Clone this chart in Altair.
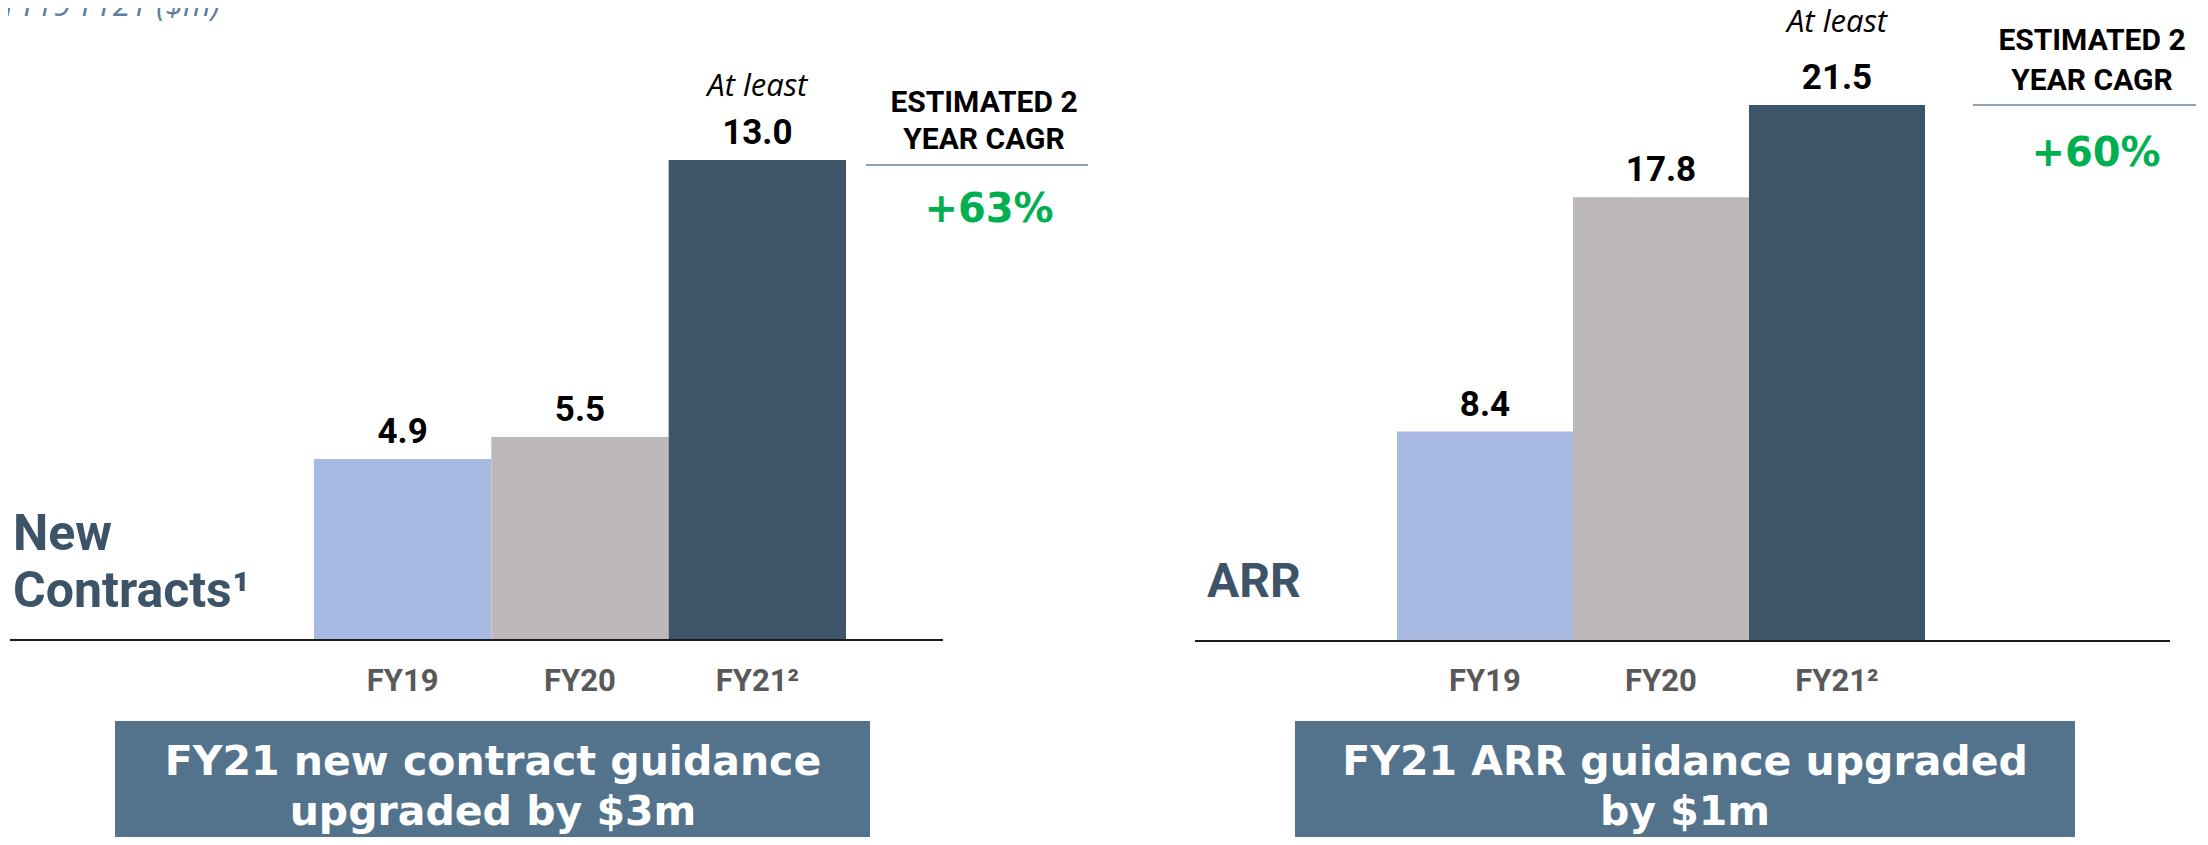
import altair as alt
import pandas as pd

# ---- data ----
categories = ["FY19", "FY20", "FY21"]
category_labels = ["FY19", "FY20", "FY21²"]
new_contracts = [4.9, 5.5, 13.0]
arr_values = [8.4, 17.8, 21.5]
bar_colors = ["#a7b9e0", "#bdb9b8", "#3e5468"]

cagr_new_contracts = "+63%"
cagr_arr = "+60%"

df_left = pd.DataFrame({"cat": categories, "label": category_labels, "value": new_contracts})
df_right = pd.DataFrame({"cat": categories, "label": category_labels, "value": arr_values})

color_enc = alt.Color("cat:N", scale=alt.Scale(domain=categories, range=bar_colors), legend=None)


def panel(df, x_range, y_max, y_range, rule_x, at_least_dy):
    xs = alt.X("cat:N", sort=categories,
               scale=alt.Scale(domain=categories, range=x_range, paddingInner=0, paddingOuter=0),
               axis=None)
    ys = alt.Y("value:Q", scale=alt.Scale(domain=[0, y_max], range=y_range, nice=False, zero=True),
               axis=None)
    base = alt.Chart(df)
    bars = base.mark_bar(strokeWidth=0).encode(x=xs, y=ys, color=color_enc)
    vals = base.mark_text(font="Roboto", fontWeight="bold", fontSize=35, color="#000000",
                          baseline="alphabetic", dy=-16).encode(
        x=xs, y=ys, text=alt.Text("value:Q", format=".1f"))
    cats = base.mark_text(font="Roboto", fontWeight="bold", fontSize=31, color="#595959",
                          baseline="alphabetic").encode(
        x=xs, y=alt.value(683), text="label:N")
    atleast = base.transform_filter(alt.datum.cat == "FY21").mark_text(
        font="Open Sans", fontStyle="italic", fontSize=31, color="#000000",
        baseline="alphabetic", dy=at_least_dy).encode(
        x=xs, y=ys, text=alt.value("At least"))
    rule = alt.Chart(pd.DataFrame({"z": [0]})).mark_rule(color="#1b1b1b", strokeWidth=2).encode(
        x=alt.value(rule_x[0]), x2=alt.value(rule_x[1]),
        y=alt.Y(datum=0, scale=alt.Scale(domain=[0, y_max], range=y_range, nice=False, zero=True), axis=None))
    return alt.layer(bars, vals, cats, atleast, rule)


left = panel(df_left, [306, 838], 13.0, [632, 152], (2, 935), -64)
right = panel(df_right, [1389, 1917], 21.5, [633, 97], (1187, 2162), -73)


def label(text, x, y, size, color, weight="bold", font="Roboto", style="normal", align="center"):
    return alt.Chart(pd.DataFrame({"t": [text]})).mark_text(
        font=font, fontSize=size, fontWeight=weight, fontStyle=style, color=color,
        align=align, baseline="alphabetic").encode(
        x=alt.value(x), y=alt.value(y), text="t:N")


def hline(x1, x2, y, color, width=2):
    return alt.Chart(pd.DataFrame({"z": [0]})).mark_rule(color=color, strokeWidth=width).encode(
        x=alt.value(x1), x2=alt.value(x2), y=alt.value(y))


def box(x1, x2, y1, y2, color):
    return alt.Chart(pd.DataFrame({"z": [0]})).mark_rect(color=color).encode(
        x=alt.value(x1), x2=alt.value(x2), y=alt.value(y1), y2=alt.value(y2))


box_color = "#53738c"
annotations = [
    label("FY19-FY21 ($m)", 212, 8, 32, "#5d7f9b", weight="normal", font="Open Sans",
          style="italic", align="right"),
    # left side
    label("New", 5, 542, 50, "#3d5468", align="left"),
    label("Contracts¹", 5, 599, 50, "#3d5468", align="left"),
    label("ESTIMATED 2", 976, 104, 30, "#000000"),
    label("YEAR CAGR", 976, 141, 30, "#000000"),
    hline(858, 1080, 157, "#8da2b6"),
    label(cagr_new_contracts, 981, 214, 40, "#00b050", font="DejaVu Sans"),
    box(107, 862, 713, 840, box_color),
    label("FY21 new contract guidance", 485, 767, 41, "#ffffff", font="DejaVu Sans"),
    label("upgraded by $3m", 485, 817, 41, "#ffffff", font="DejaVu Sans"),
    # right side
    label("ARR", 1199, 589, 48, "#3d5468", align="left"),
    label("ESTIMATED 2", 2084, 42, 30, "#000000"),
    label("YEAR CAGR", 2084, 82, 30, "#000000"),
    hline(1965, 2188, 97, "#8da2b6"),
    label(cagr_arr, 2088, 158, 40, "#00b050", font="DejaVu Sans"),
    box(1287, 2067, 713, 840, box_color),
    label("FY21 ARR guidance upgraded", 1677, 767, 41, "#ffffff", font="DejaVu Sans"),
    label("by $1m", 1677, 817, 41, "#ffffff", font="DejaVu Sans"),
]

chart = alt.layer(left, right, *annotations).resolve_scale(
    x="independent", y="independent"
).properties(
    width=2192, height=829, padding=0,
    autosize=alt.AutoSizeParams(type="none"),
    background="#ffffff",
).configure_view(stroke=None)

chart.save("out.html", embed_options={"renderer": "svg", "actions": False})
